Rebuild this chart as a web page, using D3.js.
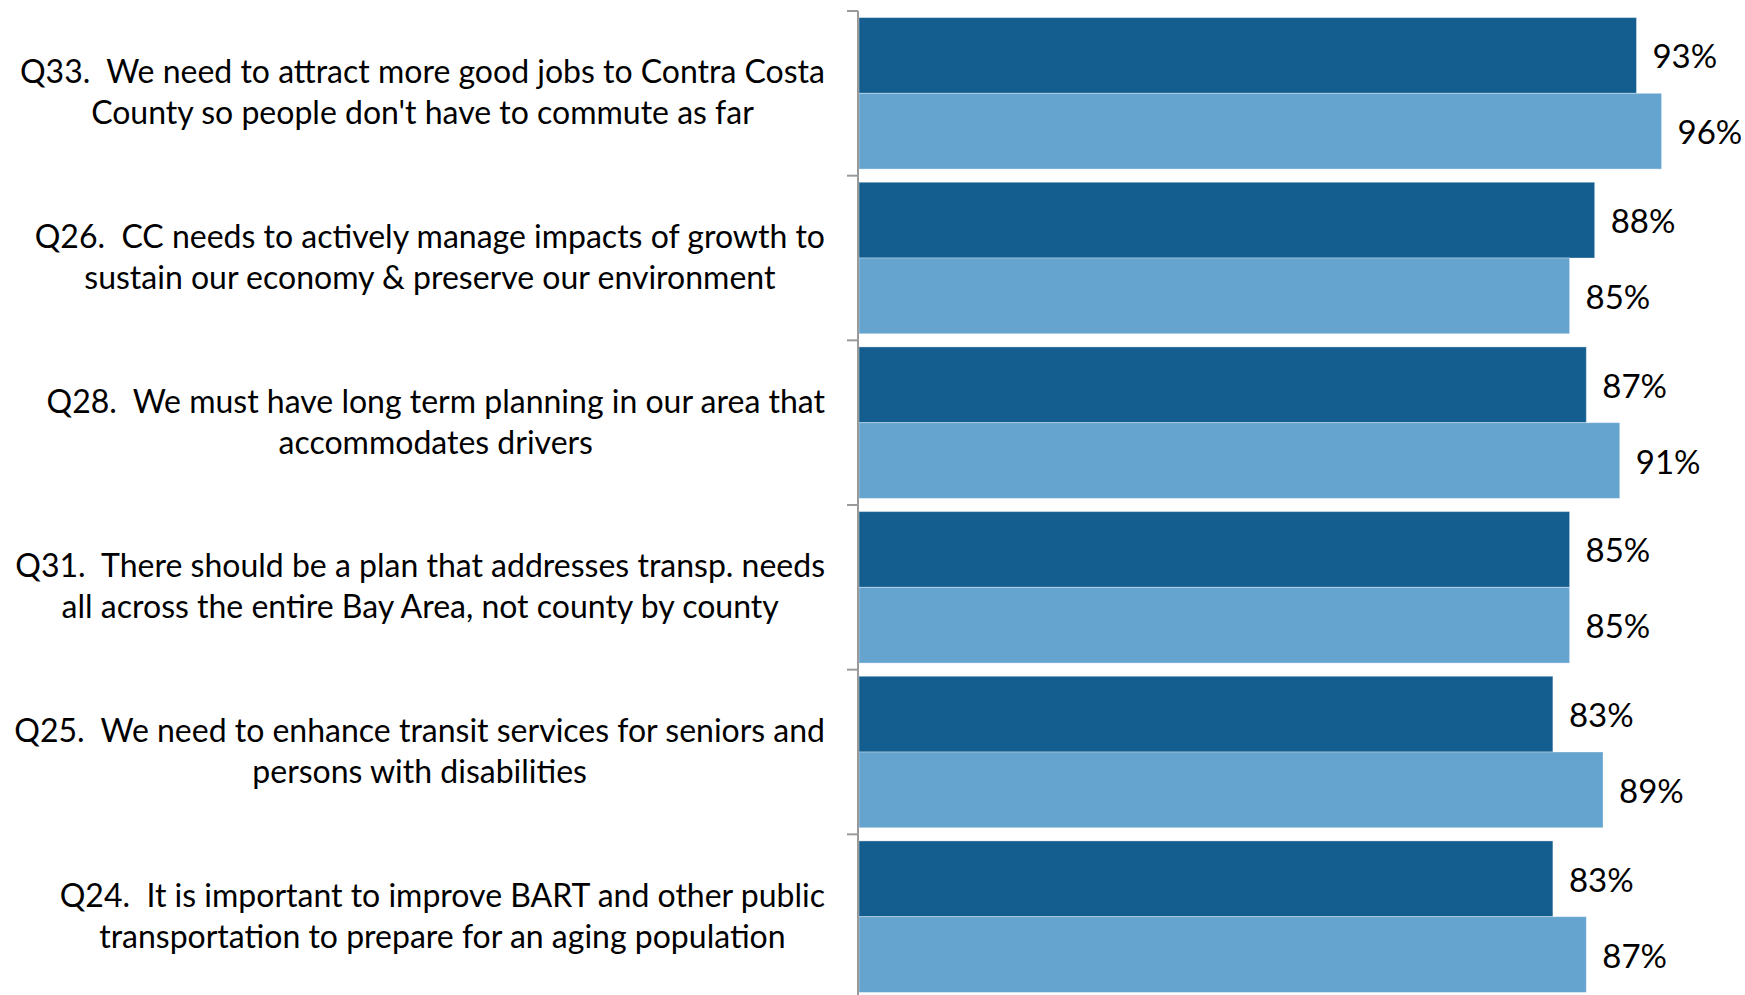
<!DOCTYPE html>
<html>
<head>
<meta charset="utf-8">
<script src="https://cdn.jsdelivr.net/npm/d3@7/dist/d3.min.js"></script>
<style>
  html, body { margin: 0; padding: 0; background: #ffffff; }
  svg { display: block; }
  text { font-family: Lato, "Open Sans", sans-serif; fill: #000; white-space: pre; }
</style>
</head>
<body>
<svg id="chart" width="1745" height="995"></svg>
<script>
// Survey statements, each split into its two display lines
const categories = ["Q33", "Q26", "Q28", "Q31", "Q25", "Q24"];
const categoryLines = [
  ["Q33.  We need to attract more good jobs to Contra Costa", "County so people don't have to commute as far"],
  ["Q26.  CC needs to actively manage impacts of growth to", "sustain our economy & preserve our environment"],
  ["Q28.  We must have long term planning in our area that", "accommodates drivers"],
  ["Q31.  There should be a plan that addresses transp. needs", "all across the entire Bay Area, not county by county"],
  ["Q25.  We need to enhance transit services for seniors and", "persons with disabilities"],
  ["Q24.  It is important to improve BART and other public", "transportation to prepare for an aging population"]
];
// Share agreeing (%), two survey groups
const seriesKeys = ["first", "second"];
const firstValues  = [93, 88, 87, 85, 83, 83];
const secondValues = [96, 85, 91, 85, 89, 87];
const seriesColors = ["#135e8f", "#64a4cf"];

const svg = d3.select("#chart");
const axisX = 858;
const labelRight = 825;

const x = d3.scaleLinear().domain([0, 100]).range([axisX + 1, axisX + 1 + 836]);
const y0 = d3.scaleBand().domain(categories).range([11, 999]).padding(0);
const step = y0.step();
const y1 = d3.scaleBand().domain(seriesKeys).range([step * 0.04, step * 0.96]).padding(0);

const rows = categories.map((c, i) => ({
  cat: c,
  lines: categoryLines[i],
  values: [
    { key: "first", value: firstValues[i] },
    { key: "second", value: secondValues[i] }
  ]
}));
const color = d3.scaleOrdinal().domain(seriesKeys).range(seriesColors);

// Bars
const groups = svg.append("g").selectAll("g.row")
  .data(rows).join("g")
  .attr("class", "row")
  .attr("transform", d => `translate(0,${y0(d.cat)})`);

groups.selectAll("rect")
  .data(d => d.values).join("rect")
  .attr("x", x(0))
  .attr("y", d => y1(d.key))
  .attr("width", d => x(d.value) - x(0))
  .attr("height", y1.bandwidth())
  .attr("fill", d => color(d.key))
  .attr("stroke", "rgba(255,255,255,0.35)")
  .attr("stroke-width", 1);

// Value labels
groups.selectAll("text.val")
  .data(d => d.values).join("text")
  .attr("class", "val")
  .attr("x", d => x(d.value) + 16)
  .attr("y", d => y1(d.key) + y1.bandwidth() / 2 + 13)
  .attr("font-size", 33)
  .text(d => d.value + "%");

// Category axis with outward ticks at band boundaries
const axisG = svg.append("g");
axisG.append("line")
  .attr("x1", axisX).attr("x2", axisX)
  .attr("y1", y0.range()[0]).attr("y2", y0.range()[1])
  .attr("stroke", "#9a9a9a").attr("stroke-width", 2);
const tickYs = categories.map(c => y0(c)).concat([y0.range()[1]]);
axisG.selectAll("line.tick")
  .data(tickYs).join("line")
  .attr("class", "tick")
  .attr("x1", axisX - 11).attr("x2", axisX)
  .attr("y1", d => d).attr("y2", d => d)
  .attr("stroke", "#9a9a9a").attr("stroke-width", 2);

// Category labels: lines centred on each other, block right-aligned to the axis
const labelG = svg.append("g");
rows.forEach(r => {
  const g = labelG.append("g");
  const cy = y0(r.cat) + step / 2;
  const texts = g.selectAll("text")
    .data(r.lines).join("text")
    .attr("font-size", 32)
    .attr("text-anchor", "middle")
    .attr("y", (d, i) => cy - 10 + i * 41)
    .text(d => d);
  let maxW = 0;
  texts.each(function () { maxW = Math.max(maxW, this.getComputedTextLength()); });
  texts.attr("x", labelRight - maxW / 2);
});
</script>
</body>
</html>
